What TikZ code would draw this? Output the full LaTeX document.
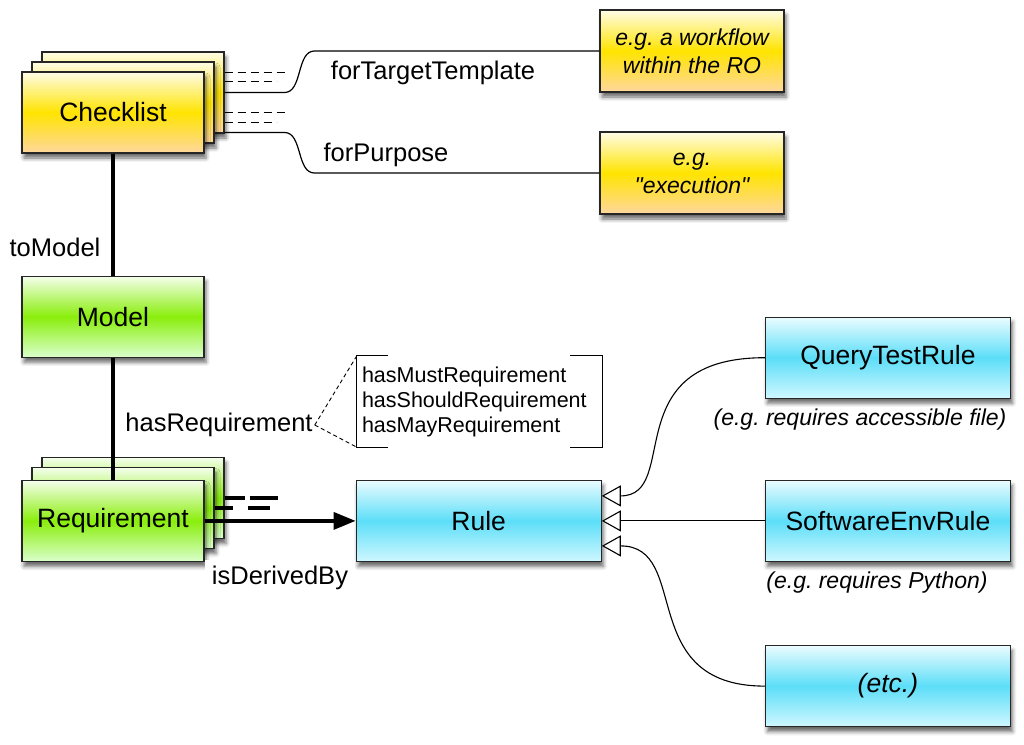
\documentclass[tikz,border=0pt]{standalone}
\usepackage{fontspec}
\setmainfont{Liberation Sans}
\usetikzlibrary{arrows.meta, positioning, calc, shadows.blur}
\frenchspacing
\definecolor{yeltop}{HTML}{FFFCE6}
\definecolor{yelmid}{HTML}{FFE400}
\definecolor{yelbot}{HTML}{FFD79E}
\definecolor{grntop}{HTML}{F4FFEC}
\definecolor{grnmid}{HTML}{8AEE0C}
\definecolor{grnbot}{HTML}{DAFFCC}
\definecolor{blutop}{HTML}{EAFCFF}
\definecolor{blumid}{HTML}{5CDEF8}
\definecolor{blubot}{HTML}{CFF7FF}
\tikzstyle{box} = [minimum width=182pt, minimum height=81pt, draw=black!85, line width=1.2pt, rectangle, font=\fontsize{26.5}{30}\selectfont, inner sep=2pt, blur shadow={shadow xshift=2pt, shadow yshift=-5pt, shadow blur radius=4pt, shadow opacity=60}]
\tikzstyle{yellowbox} = [box, top color=yeltop, bottom color=yelbot, middle color=yelmid]
\tikzstyle{greenbox} = [box, top color=grntop, bottom color=grnbot, middle color=grnmid]
\tikzstyle{bluebox} = [box, minimum width=245pt, top color=blutop, bottom color=blubot, middle color=blumid]
\tikzstyle{example} = [yellowbox, minimum width=184pt, minimum height=82pt, align=center, font=\fontsize{23}{28}\selectfont\itshape]
\tikzstyle{label} = [font=\fontsize{25.5}{30}\selectfont, inner sep=2pt]
\tikzstyle{note} = [font=\fontsize{23}{28}\selectfont\itshape, inner sep=2pt]
\tikzstyle{stackline} = [line width=3.5pt]
\tikzstyle{link} = [line width=1.2pt]
\tikzstyle{stub} = [line width=1pt, dash pattern=on 8pt off 5pt]
\tikzstyle{derive} = [-{Triangle[length=22pt, width=17pt]}, line width=3.5pt]
\tikzstyle{inherit} = [-{Triangle[length=19pt, width=21pt, fill=white]}, line width=1.1pt]

\begin{document}
\begin{tikzpicture}[x=1pt, y=-1pt, node distance=122pt]
    \useasboundingbox (0,0) rectangle (1024,744);

    % Nodes.

    % Checklist stack.
    \foreach \i/\s in {3/20, 2/10} {%
        \node (node chk\i) [yellowbox] at (113+\s, 112.5-\s) {};
    }
    \node (node chk1) [yellowbox] at (113, 112.5) {Checklist};

    % Model.
    \node (node model) [greenbox, below=of node chk1] {Model};

    % Requirement stack.
    \foreach \i/\s in {3/20, 2/10} {%
        \node (node req\i) [greenbox] at (113+\s, 518-\s) {};
    }
    \node (node req1) [greenbox, below=of node model] {Requirement};

    % Rules.
    \node (node rule) [bluebox, right=151pt of node req1] {Rule};
    \node (node ser) [bluebox, right=163pt of node rule] {SoftwareEnvRule};
    \node (node qtr) [bluebox, above=81pt of node ser] {QueryTestRule};
    \node (node etc) [bluebox, below=83pt of node ser] {\itshape (etc.)};

    % Examples.
    \node (node wf) [example] at (692, 51) {e.g. a workflow\\within the RO};
    \node (node ex) [example] at (692, 173) {e.g.\\\textquotedbl execution\textquotedbl};

    % Labels.
    \node (node tomodel) [label] at (55, 247) {toModel};
    \node (node target) [label] at (433, 73) {forTargetTemplate};
    \node (node purpose) [label] at (386, 155) {forPurpose};
    \node (node hasreq) [label] at (219, 425) {hasRequirement};
    \node (node derived) [label, fill=white, inner xsep=7pt, inner ysep=6pt] at (280, 578) {isDerivedBy};
    \node (node qnote) [note] at (860, 420) {(e.g. requires accessible file)};
    \node (node snote) [note] at (877, 583) {(e.g. requires Python)};
    \node (node kinds) [minimum width=245pt, minimum height=91pt, text width=235pt, inner xsep=5pt, align=left, font=\fontsize{21.5}{25}\selectfont] at (479.5, 401.5) {hasMustRequirement\\hasShouldRequirement\\hasMayRequirement};

    % Brackets.
    \draw [link] ($(node kinds.north west)+(31,0)$) -| (node kinds.south west) -- ++(31,0);
    \draw [link] ($(node kinds.north east)+(-32,0)$) -| (node kinds.south east) -- ++(-32,0);
    \draw [stub, line width=0.9pt, dash pattern=on 4pt off 3pt] (node hasreq.east) -- (node kinds.north west);
    \draw [stub, line width=0.9pt, dash pattern=on 4pt off 3pt] (node hasreq.east) -- (node kinds.south west);

    % Vertical links.
    \draw [stackline] (node chk1) -- (node model);
    \draw [stackline] (node model) -- (node req1);

    % Checklist properties.
    \foreach \dy/\len in {-20/62, -11/52, 20/62, 30/52} {%
        \draw [stub] ($(node chk3.east)+(0,\dy)$) -- ++(\len,0);
    }
    \draw [link] (node chk3.east) -- ++(60,0) .. controls +(18,0) and +(-18,0) .. ($(node wf.west)+(-285,0)$) -- (node wf.west);
    \draw [link] ($(node chk3.east)+(0,40)$) -- ++(60,0) .. controls +(18,0) and +(-18,0) .. ($(node ex.west)+(-285,0)$) -- (node ex.west);

    % Derivation.
    \draw [stackline, dash pattern=on 20pt off 5pt on 28pt off 40pt] (node req3.east) -- ++(53,0);
    \draw [stackline, dash pattern=on 18pt off 15pt on 22pt off 40pt] (node req2.east) -- ++(55,0);
    \draw [derive] (node req1) -- (node rule);

    % Inheritance.
    \draw [inherit] (node qtr.west) .. controls +(-150,0) and +(80,0) .. ($(node rule.east)+(0,-25)$);
    \draw [inherit] (node ser) -- (node rule);
    \draw [inherit] (node etc.west) .. controls +(-130,0) and +(90,0) .. ($(node rule.east)+(0,25)$);
\end{tikzpicture}
\end{document}
